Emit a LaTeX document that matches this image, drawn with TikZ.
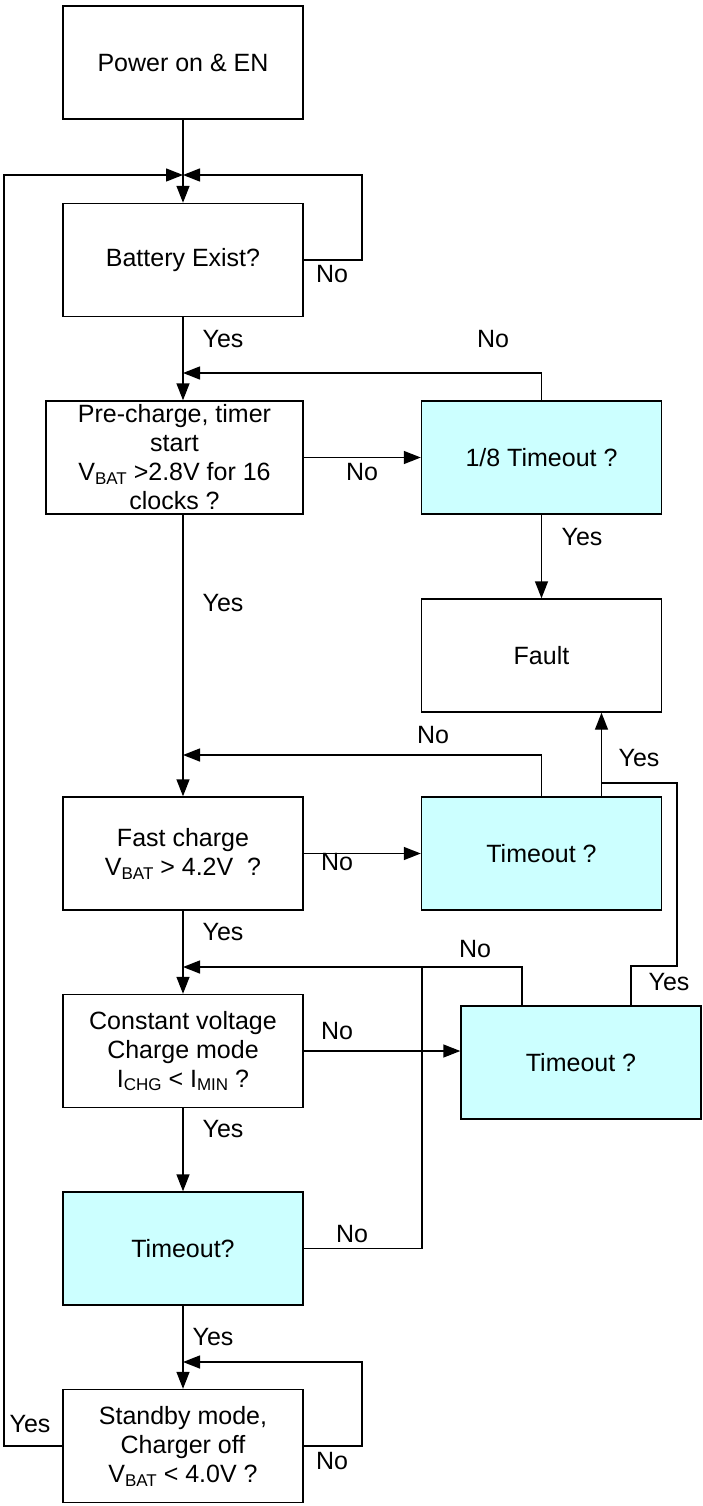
\documentclass[tikz,border=0pt]{standalone}
\usepackage{fontspec}
\setmainfont{Liberation Sans}
\usetikzlibrary{positioning, calc, arrows.meta}
\definecolor{tocyan}{HTML}{CCFFFF}
\newcommand{\lowtxt}[1]{\raisebox{-0.3ex}{\fontsize{17}{17}\selectfont #1}}

\begin{document}
\begin{tikzpicture}[x=1pt,y=-1pt, line join=miter,
  box/.style={draw, line width=1.4pt, minimum width=240pt, minimum height=113pt,
    align=center, inner sep=2pt, font=\fontsize{25}{29}\selectfont},
  tbox/.style={box, fill=tocyan},
  lbl/.style={font=\fontsize{25}{29}\selectfont, inner sep=0pt, text height=0.72em, text depth=0pt},
  wire/.style={line width=1.4pt},
  arr/.style={wire, -{Triangle[length=17pt,width=13pt]}}]

\useasboundingbox (0,0) rectangle (702,1506);

% boxes
\node[box]  (pwr)   at (183,  62.5) {Power on \& EN};
\node[box]  (bat)   at (183, 260)   {Battery Exist?};
\node[box, minimum width=257pt] (pre) at (174.5, 457.5)
  {Pre-charge, timer\\start\\V\lowtxt{BAT} >2.8V for 16\\clocks ?};
\node[tbox] (t18)   at (541.5, 457.5) {1/8 Timeout ?};
\node[box]  (fault) at (541.5, 655.5) {Fault};
\node[box]  (fast)  at (183, 853.5) {Fast charge\\V\lowtxt{BAT} > 4.2V\ \ ?};
\node[tbox] (to2)   at (541.5, 853.5) {Timeout ?};
\node[box]  (cv)    at (183, 1051)  {Constant voltage\\Charge mode\\I\lowtxt{CHG} < I\lowtxt{MIN} ?};
\node[tbox] (to3)   at (581, 1062.5) {Timeout ?};
\node[tbox] (to4)   at (183, 1248.5) {Timeout?};
\node[box]  (stby)  at (183, 1446)  {Standby mode,\\Charger off\\V\lowtxt{BAT} < 4.0V ?};

% junctions and corners
\coordinate (jbat)  at (183, 175);
\coordinate (jpre)  at (183, 373);
\coordinate (jfast) at (183, 755);
\coordinate (jcv)   at (183, 967);
\coordinate (jsb)   at (183, 1362);
\coordinate (batr)  at (362, 175);
\coordinate (lft)   at (4, 175);
\coordinate (sbr)   at (362, 1362);
\coordinate (to4r)  at (422, 967);
\coordinate (yr1)   at (677, 966);
\coordinate (yr2)   at (602, 783);

% main column
\draw[arr] (pwr.south) -- (bat.north);
\draw[arr] (bat.south) -- (bat.south |- pre.north);
\draw[arr] (bat.south |- pre.south) -- (fast.north);
\draw[arr] (fast.south) -- (cv.north);
\draw[arr] (cv.south) -- (to4.north);
\draw[arr] (to4.south) -- (stby.north);

% side branches
\draw[arr] (pre.east) -- (t18.west);
\draw[arr] (t18.south) -- (fault.north);
\draw[arr] (fast.east) -- (to2.west);
\draw[arr] (cv.east) -- (cv.east -| to3.west);
\draw[arr] ([xshift=60pt]to2.north) -- ([xshift=60pt]fault.south);

% loops back
\draw[arr] (bat.east) -| (batr) -- (jbat);
\draw[arr] (stby.west) -| (lft) -- (jbat);
\draw[arr] (stby.east) -| (sbr) -- (jsb);
\draw[arr] (t18.north) |- (jpre);
\draw[arr] (to2.north) |- (jfast);
\draw[arr] ([xshift=-59pt]to3.north) |- (jcv);
\draw[wire] (to4.east) -| (to4r);
\draw[wire] ([xshift=50pt]to3.north) |- (yr1) |- (yr2);

% labels
\node[lbl] (nbat)  at (332, 279)  {No};
\node[lbl] (ybat)  at (223, 344)  {Yes};
\node[lbl] (n18a)  at (493, 344)  {No};
\node[lbl] (npre)  at (362, 477)  {No};
\node[lbl] (y18)   at (582, 542)  {Yes};
\node[lbl] (ypre)  at (223, 608)  {Yes};
\node[lbl] (nto2)  at (433, 740)  {No};
\node[lbl] (yto2)  at (639, 763)  {Yes};
\node[lbl] (nfast) at (337, 867)  {No};
\node[lbl] (yfast) at (223, 937)  {Yes};
\node[lbl] (nto3)  at (475, 954)  {No};
\node[lbl] (yto3)  at (669, 987)  {Yes};
\node[lbl] (ncv)   at (337, 1036) {No};
\node[lbl] (ycv)   at (223, 1134) {Yes};
\node[lbl] (nto4)  at (352, 1239) {No};
\node[lbl] (yto4)  at (213, 1342) {Yes};
\node[lbl] (ysb)   at (30, 1429)  {Yes};
\node[lbl] (nsb)   at (332, 1466) {No};

\end{tikzpicture}
\end{document}
